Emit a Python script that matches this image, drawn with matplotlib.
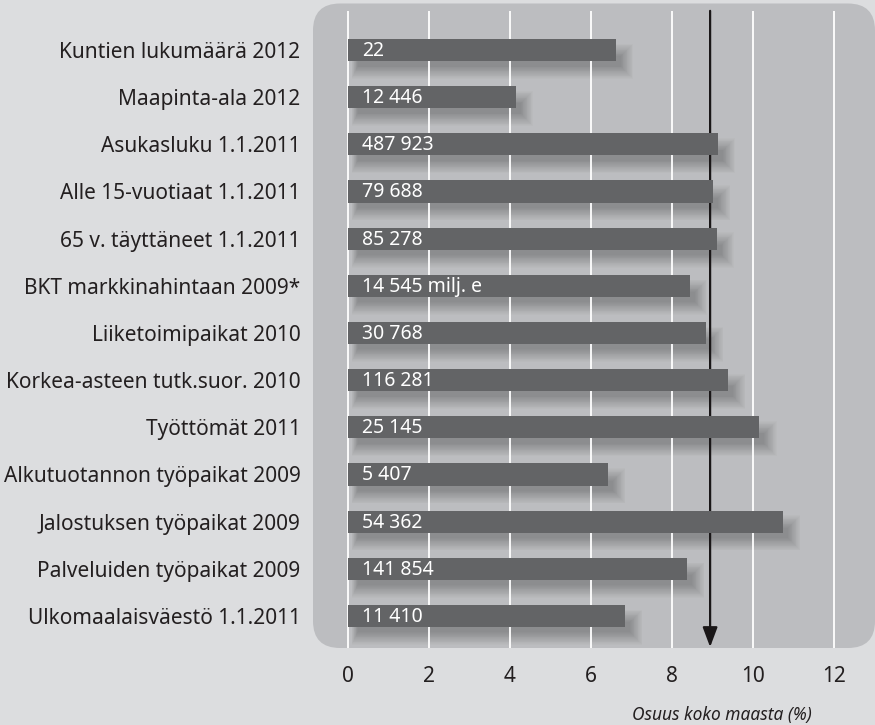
import numpy as np
import matplotlib
matplotlib.use('Agg')
import matplotlib.pyplot as plt
from matplotlib.patches import FancyBboxPatch
from matplotlib.transforms import IdentityTransform

plt.rcParams['font.family'] = ['Noto Sans', 'DejaVu Sans']

# osuus koko maasta (%)
categories = ['Kuntien lukumäärä 2012', 'Maapinta-ala 2012', 'Asukasluku 1.1.2011',
              'Alle 15-vuotiaat 1.1.2011', '65 v. täyttäneet 1.1.2011',
              'BKT markkinahintaan 2009*', 'Liiketoimipaikat 2010',
              'Korkea-asteen tutk.suor. 2010', 'Työttömät 2011',
              'Alkutuotannon työpaikat 2009', 'Jalostuksen työpaikat 2009',
              'Palveluiden työpaikat 2009', 'Ulkomaalaisväestö 1.1.2011']
share = [6.60, 4.13, 9.12, 9.00, 9.09, 8.43, 8.83, 9.37, 10.14, 6.41, 10.73, 8.36, 6.83]
counts = ['22', '12 446', '487 923', '79 688', '85 278', '14 545 milj. e', '30 768',
          '116 281', '25 145', '5 407', '54 362', '141 854', '11 410']
avg_share = 8.95
xticks = [0, 2, 4, 6, 8, 10, 12]

bg = '#dcdddf'
panel = '#bcbdc0'
barc = '#636466'
txt = '#231f20'

fig = plt.figure(figsize=(8.75, 7.25), dpi=100, facecolor=bg)
ax = fig.add_axes([313/875, 1 - 648/725, 562/875, 644.5/725])
ax.patch.set_visible(False)

rows = np.arange(len(categories))
ax.set_xlim(-0.852, 13.02)
ax.set_ylim(12.68, -0.986)

# rounded panel behind everything
fig.canvas.draw()
bb = ax.get_window_extent()
box = FancyBboxPatch((bb.x0, bb.y0), bb.width, bb.height,
                     boxstyle='round,pad=0,rounding_size=27',
                     transform=IdentityTransform(), facecolor=panel,
                     edgecolor='none', zorder=0, clip_on=False)
ax.add_patch(box)

# soft shadow under the bars (stacked transparent layers)
vals = np.array(share)
for k in range(16):
    ax.barh(rows + 0.24, vals - 0.1 + 0.03 * k, height=0.22 + 0.035 * k, left=0.25 - 0.01 * k,
            color='black', alpha=0.016, linewidth=0, zorder=1)

ax.vlines(xticks, -0.83, 12.68, color='white', lw=1.3, zorder=2)

ax.annotate('', xy=(avg_share, 12.66), xytext=(avg_share, -0.83),
            arrowprops=dict(arrowstyle='-|>,head_length=0.4,head_width=0.15',
                            mutation_scale=30, color='#1a1718', lw=1.6,
                            shrinkA=0, shrinkB=0), zorder=3)

ax.barh(rows, vals, height=0.47, left=0.02, color=barc, linewidth=0, zorder=4)
for r, c in zip(rows, counts):
    ax.text(0.36, r + 0.02, c, color='white', fontsize=14, va='center', ha='left', zorder=5)

ax.set_yticks(rows, categories, fontsize=15, color=txt)
ax.set_xticks(xticks, [str(t) for t in xticks], fontsize=15, color=txt)
ax.tick_params(length=0)
ax.tick_params(axis='y', pad=9)
ax.tick_params(axis='x', pad=13)
for s in ax.spines.values():
    s.set_visible(False)

fig.text(812/875, 1 - 715/725, 'Osuus koko maasta (%)', style='italic', fontsize=12.5,
         color=txt, ha='right', va='center')

fig.savefig('out.png', dpi=100, facecolor=bg)
